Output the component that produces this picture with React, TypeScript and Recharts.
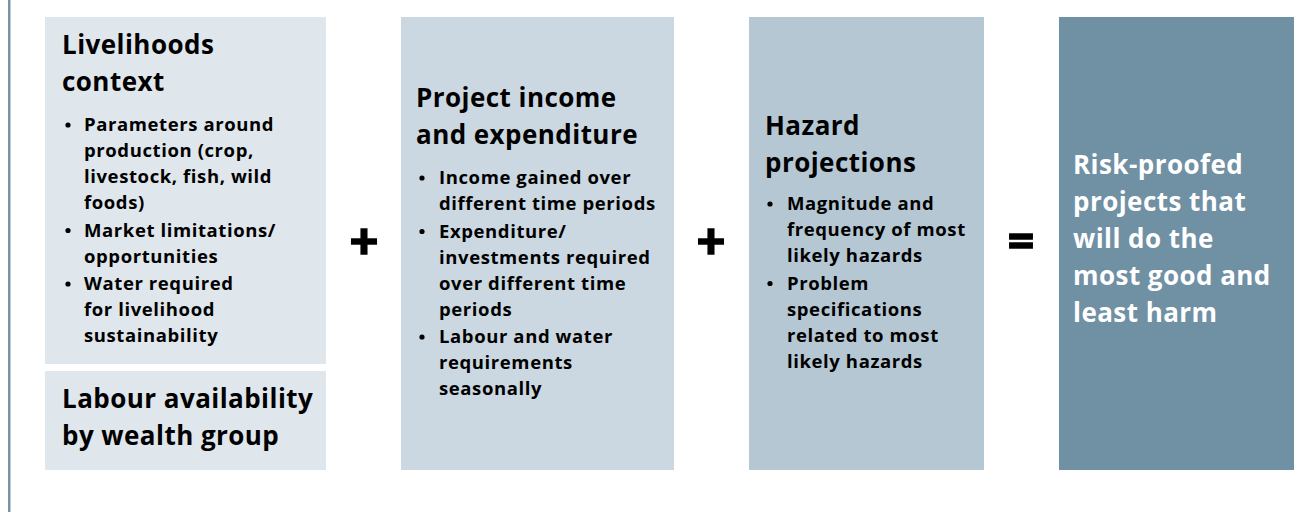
import React from "react";
import { ComposedChart, XAxis, YAxis, ReferenceArea } from "recharts";

const W = 1315;
const H = 512;

const panelNames = ["livelihoods", "labour", "income", "hazard", "result"];
const panelTitles: string[][] = [
  ["Livelihoods", "context"],
  ["Labour availability", "by wealth group"],
  ["Project income", "and expenditure"],
  ["Hazard", "projections"],
  ["Risk-proofed", "projects that", "will do the", "most good and", "least harm"],
];
const panelBullets: string[][][] = [
  [
    ["Parameters around", "production (crop,", "livestock, fish, wild", "foods)"],
    ["Market limitations/", "opportunities"],
    ["Water required", "for livelihood", "sustainability"],
  ],
  [],
  [
    ["Income gained over", "different time periods"],
    ["Expenditure/", "investments required", "over different time", "periods"],
    ["Labour and water", "requirements", "seasonally"],
  ],
  [
    ["Magnitude and", "frequency of most", "likely hazards"],
    ["Problem", "specifications", "related to most", "likely hazards"],
  ],
  [],
];
const operators = ["+", "+", "="];

// layout (pixels in the 1315x512 frame)
const panelBoxes = [
  { x1: 45, x2: 326, y1: 17, y2: 364 },
  { x1: 45, x2: 326, y1: 371, y2: 470 },
  { x1: 401, x2: 674, y1: 17, y2: 470 },
  { x1: 749, x2: 984, y1: 17, y2: 470 },
  { x1: 1059, x2: 1294, y1: 17, y2: 470 },
];
const panelFills = ["#dfe6ec", "#dfe6ec", "#cbd8e1", "#b5c7d3", "#7090a4"];
// offsets relative to each box's top-left corner
const textLayout = [
  { tx: 17, ty: 37, bx: 39, dx: 21, by: 114, color: "#000" },
  { tx: 17, ty: 37, bx: 0, dx: 0, by: 0, color: "#000" },
  { tx: 15, ty: 90, bx: 38, dx: 19, by: 167, color: "#000" },
  { tx: 16, ty: 118, bx: 38, dx: 19, by: 193, color: "#000" },
  { tx: 14, ty: 157, bx: 0, dx: 0, by: 0, color: "#fff" },
];
const operatorX = [364, 711, 1021];

const FONT = "'Open Sans', Lato, sans-serif";
const TITLE_SIZE = 26;
const TITLE_SPACING = 0.45;
const TITLE_STEP = 37;
const BULLET_SIZE = 18.5;
const BULLET_SPACING = 0.6;
const BULLET_STEP = 26;
const BULLET_GAP = 1.5;

const PanelText = (props: any) => {
  const i: number = props.idx;
  const vb = props.viewBox || { x: 0, y: 0 };
  const ox = vb.x;
  const oy = vb.y;
  const L = textLayout[i];
  const items: React.ReactNode[] = [];
  panelTitles[i].forEach((ln, j) => {
    items.push(
      <text key={`t${j}`} x={ox + L.tx} y={oy + L.ty + j * TITLE_STEP} fontFamily={FONT}
        fontWeight={700} fontSize={TITLE_SIZE} letterSpacing={TITLE_SPACING} fill={L.color}>{ln}</text>
    );
  });
  let y = oy + L.by;
  panelBullets[i].forEach((b, k) => {
    if (k > 0) y += BULLET_GAP;
    items.push(<circle key={`d${k}`} cx={ox + L.dx + 2} cy={y - 6} r={2.6} fill="#000" />);
    b.forEach((ln, j) => {
      items.push(
        <text key={`b${k}-${j}`} x={ox + L.bx} y={y} fontFamily={FONT}
          fontWeight={700} fontSize={BULLET_SIZE} letterSpacing={BULLET_SPACING} fill="#000">{ln}</text>
      );
      y += BULLET_STEP;
    });
  });
  return <g>{items}</g>;
};

const OperatorText = (props: any) => {
  const vb = props.viewBox || { x: 0, y: 0, width: 0, height: 0 };
  return (
    <text x={vb.x + vb.width / 2} y={vb.y + vb.height / 2 + 17} textAnchor="middle" fontFamily="Lato, sans-serif"
      fontWeight={900} fontSize={50} fill="#000" stroke="#000" strokeWidth={1.5}>{props.op}</text>
  );
};

export default function App() {
  const data = [{ x: 0, y: 0 }, { x: W, y: H }];
  return (
    <div style={{ position: "absolute", left: 0, top: 0, width: W, height: H, background: "#fff" }}>
      <ComposedChart width={W} height={H} data={data} margin={{ top: 0, right: 0, bottom: 0, left: 0 }}>
        <XAxis type="number" dataKey="x" domain={[0, W]} hide />
        <YAxis type="number" dataKey="y" domain={[0, H]} reversed hide />
        <ReferenceArea x1={8} x2={10.5} y1={0} y2={H} fill="#7a93a7" fillOpacity={1} stroke="none" ifOverflow="visible" />
        {panelBoxes.map((b, i) => (
          <ReferenceArea key={panelNames[i]} x1={b.x1} x2={b.x2} y1={b.y1} y2={b.y2}
            fill={panelFills[i]} fillOpacity={1} stroke="none" ifOverflow="visible"
            label={<PanelText idx={i} />} />
        ))}
        {operators.map((op, i) => (
          <ReferenceArea key={`op${i}`} x1={operatorX[i] - 20} x2={operatorX[i] + 20} y1={221} y2={261}
            fill="none" fillOpacity={0} stroke="none" ifOverflow="visible"
            label={<OperatorText op={op} />} />
        ))}
      </ComposedChart>
    </div>
  );
}
